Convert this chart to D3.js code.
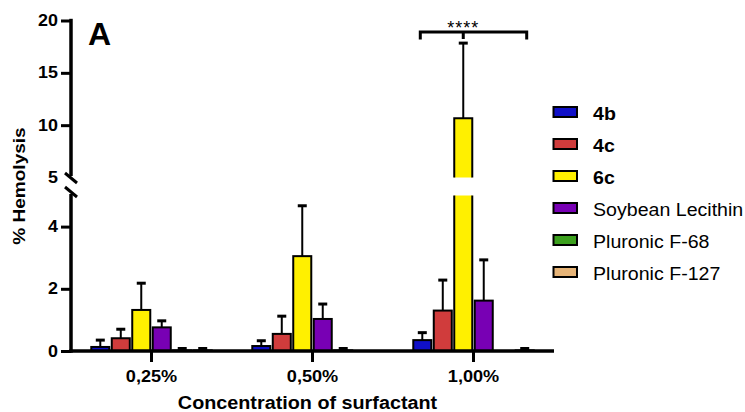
<!DOCTYPE html>
<html>
<head>
<meta charset="utf-8">
<script src="https://cdn.jsdelivr.net/npm/d3@7"></script>
<style>
  html, body { margin: 0; padding: 0; background: #fff; }
  svg { display: block; font-family: "Liberation Sans", Arial, Helvetica, sans-serif; }
</style>
</head>
<body>
<svg id="chart" width="745" height="412"></svg>
<script>
// ---------- DATA ----------
const categories = ["0,25%", "0,50%", "1,00%"];
const seriesNames = ["4b", "4c", "6c", "Soybean Lecithin", "Pluronic F-68", "Pluronic F-127"];
const seriesBold = [true, true, true, false, false, false];
const seriesColors = ["#1010c8", "#d03c3c", "#fff000", "#7800b4", "#3ca01e", "#e6b478"];

const mean4b   = [0.13, 0.16, 0.35];
const mean4c   = [0.41, 0.55, 1.30];
const mean6c   = [1.32, 3.05, 10.67];
const meanSL   = [0.76, 1.03, 1.62];
const meanF68  = [0.02, 0.02, 0];
const meanF127 = [0.02, 0, 0.02];

const err4b   = [0.22, 0.17, 0.24];
const err4c   = [0.29, 0.57, 0.98];
const err6c   = [0.86, 1.62, 7.17];
const errSL   = [0.21, 0.48, 1.31];
const errF68  = [0.06, 0.06, 0];
const errF127 = [0.06, 0, 0.06];

const upperTicks = [5, 10, 15, 20];
const lowerTicks = [0, 2, 4];
const breakValue = 5;

const yTitle = "% Hemolysis";
const xTitle = "Concentration of surfactant";
const panelLabel = "A";
const sigLabel = "****";

const means = [mean4b, mean4c, mean6c, meanSL, meanF68, meanF127];
const errs  = [err4b, err4c, err6c, errSL, errF68, errF127];

// ---------- LAYOUT ----------
const svg = d3.select("#chart");
const axisX = 71, axisBottomY = 351, axisRight = 554;
const SX = 1.12;

const x0 = d3.scaleBand().domain(categories).range([axisX, axisRight]).paddingInner(0).paddingOuter(0);
const x1 = d3.scaleBand().domain(seriesNames).range([0, x0.bandwidth()]).paddingInner(0.12).paddingOuter(0.99);

const yLower = d3.scaleLinear().domain([0, breakValue]).range([axisBottomY, 195.5]);
const yUpper = d3.scaleLinear().domain([breakValue, 20]).range([177.5, 20.5]);
const yPos = v => v <= breakValue ? yLower(v) : yUpper(v);

// ---------- BARS ----------
const gBars = svg.append("g");
const rows = [];
categories.forEach((c, ci) => {
  seriesNames.forEach((s, si) => {
    rows.push({ cat: c, ser: s, si, v: means[si][ci], e: errs[si][ci] });
  });
});

rows.forEach(d => {
  const bx = x0(d.cat) + x1(d.ser);
  const bw = x1.bandwidth();
  const cx = bx + bw / 2;
  const color = seriesColors[d.si];
  if (d.v <= breakValue) {
    const top = yLower(d.v);
    gBars.append("rect").attr("x", bx).attr("y", top).attr("width", bw).attr("height", axisBottomY - top)
      .attr("fill", color).attr("stroke", "#000").attr("stroke-width", 2);
  } else {
    // lower part
    const lTop = yLower(breakValue);
    gBars.append("rect").attr("x", bx).attr("y", lTop).attr("width", bw).attr("height", axisBottomY - lTop)
      .attr("fill", color);
    gBars.append("path").attr("d", `M${bx},${lTop}V${axisBottomY}H${bx + bw}V${lTop}`)
      .attr("fill", "none").attr("stroke", "#000").attr("stroke-width", 2);
    // upper part
    const uTop = yUpper(d.v), uBot = yUpper(breakValue);
    gBars.append("rect").attr("x", bx).attr("y", uTop).attr("width", bw).attr("height", uBot - uTop)
      .attr("fill", color);
    gBars.append("path").attr("d", `M${bx},${uBot}V${uTop}H${bx + bw}V${uBot}`)
      .attr("fill", "none").attr("stroke", "#000").attr("stroke-width", 2);
  }
  if (d.e > 0) {
    const yTop = yPos(d.v), yErr = yPos(d.v + d.e);
    gBars.append("line").attr("x1", cx).attr("x2", cx).attr("y1", yTop).attr("y2", yErr)
      .attr("stroke", "#000").attr("stroke-width", 2);
    gBars.append("line").attr("x1", cx - 4.5).attr("x2", cx + 4.5).attr("y1", yErr).attr("y2", yErr)
      .attr("stroke", "#000").attr("stroke-width", 3);
  }
});

// ---------- AXES ----------
function styleAxis(g) {
  g.select(".domain").remove();
  g.selectAll(".tick line").attr("stroke", "#000").attr("stroke-width", 3);
}

const gUpper = svg.append("g").attr("transform", `translate(${axisX},0)`)
  .call(d3.axisLeft(yUpper).tickValues(upperTicks).tickSize(10).tickPadding(3).tickFormat(d3.format("d")));
const gLower = svg.append("g").attr("transform", `translate(${axisX},0)`)
  .call(d3.axisLeft(yLower).tickValues(lowerTicks).tickSize(10).tickPadding(3).tickFormat(d3.format("d")));
[gUpper, gLower].forEach(g => {
  styleAxis(g);
  g.selectAll(".tick text")
    .attr("font-size", 16).attr("font-weight", "bold").attr("fill", "#000")
    .attr("font-family", '"Liberation Sans", Arial, sans-serif')
    .attr("x", -13 / SX).attr("transform", `scale(${SX},1)`);
});
// no tick mark at the break value (covered by break symbol)
gUpper.selectAll(".tick").filter(d => d === breakValue).select("line").remove();

const gX = svg.append("g").attr("transform", `translate(0,${axisBottomY})`)
  .call(d3.axisBottom(x0).tickSize(11).tickPadding(8));
styleAxis(gX);
gX.selectAll(".tick text")
  .attr("font-size", 16.5).attr("font-weight", "bold").attr("fill", "#000")
  .attr("font-family", '"Liberation Sans", Arial, sans-serif')
  .attr("transform", `scale(1.1,1)`);

// axis lines
svg.append("line").attr("x1", axisX).attr("x2", axisX).attr("y1", 18.8).attr("y2", 176)
  .attr("stroke", "#000").attr("stroke-width", 3.5);
svg.append("line").attr("x1", axisX).attr("x2", axisX).attr("y1", 194).attr("y2", axisBottomY + 1.75)
  .attr("stroke", "#000").attr("stroke-width", 3.5);
svg.append("line").attr("x1", axisX - 1.75).attr("x2", axisRight).attr("y1", axisBottomY).attr("y2", axisBottomY)
  .attr("stroke", "#000").attr("stroke-width", 3.5);
// break slashes
[178, 192].forEach(cy => {
  svg.append("line").attr("x1", axisX - 6).attr("y1", cy - 5).attr("x2", axisX + 6).attr("y2", cy + 5)
    .attr("stroke", "#000").attr("stroke-width", 3);
});

// ---------- SIGNIFICANCE BRACKET ----------
const cat3 = categories[2];
const bxL = x0(cat3) + x1(seriesNames[0]) + x1.bandwidth() / 2 - 2;
const bxR = x0(cat3) + x1(seriesNames[5]) + x1.bandwidth() / 2 + 2;
const bxC = x0(cat3) + x1(seriesNames[2]) + x1.bandwidth() / 2;
const brY = 32;
svg.append("path").attr("d", `M${bxL},${brY + 7.5}V${brY}H${bxR}V${brY + 7.5}M${bxC},${brY}V${brY + 7}`)
  .attr("fill", "none").attr("stroke", "#000").attr("stroke-width", 3);
svg.append("text").attr("x", bxC).attr("y", 33.5).attr("text-anchor", "middle")
  .attr("font-size", 18).attr("letter-spacing", 1).text(sigLabel);

// ---------- TITLES ----------
svg.append("text").attr("transform", `translate(25,186) rotate(-90) scale(${SX},1)`)
  .attr("text-anchor", "middle").attr("font-size", 17).attr("font-weight", "bold").text(yTitle);
svg.append("text").attr("transform", `translate(307.5,409) scale(1.07,1)`)
  .attr("text-anchor", "middle").attr("font-size", 18.5).attr("font-weight", "bold").text(xTitle);
svg.append("text").attr("x", 88).attr("y", 45).attr("font-size", 32).attr("font-weight", "bold").text(panelLabel);

// ---------- LEGEND ----------
const legendY = d3.scalePoint().domain(seriesNames).range([112, 272]);
const gLeg = svg.append("g");
seriesNames.forEach((s, i) => {
  const cy = legendY(s);
  gLeg.append("rect").attr("x", 553.5).attr("y", cy - 5).attr("width", 23.5).attr("height", 10)
    .attr("fill", seriesColors[i]).attr("stroke", "#000").attr("stroke-width", 2);
  gLeg.append("text").attr("transform", `translate(593,${cy + 7.5}) scale(${SX},1)`)
    .attr("font-size", 17.5).attr("font-weight", seriesBold[i] ? "bold" : "normal").text(s);
});
</script>
</body>
</html>
